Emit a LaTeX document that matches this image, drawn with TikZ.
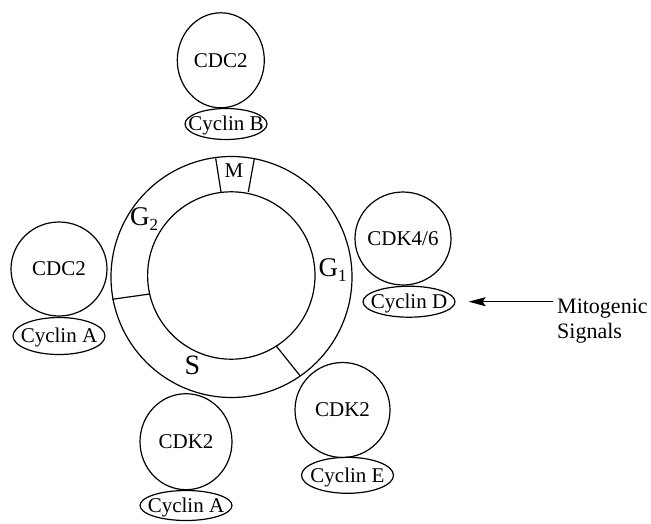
\documentclass[tikz,border=0pt]{standalone}
\usepackage{fontspec}
\setmainfont{Liberation Serif}
\usetikzlibrary{shapes.geometric,arrows.meta}
\newcommand\zb[1]{\makebox[0pt]{#1}}
\begin{document}
\begin{tikzpicture}[x=1pt,y=-1pt,
  ln/.style={line width=1.2pt},
  blob/.style={ellipse, draw, line width=1.2pt, inner sep=0pt,
    font=\fontsize{21}{25}\selectfont, text height=13.9pt, text depth=0pt},
  phase/.style={inner sep=0pt, text height=0.66em, text depth=0pt}
]
\useasboundingbox (0,0) rectangle (651,523);
% cell cycle ring
\draw[ln] (231.5,277) circle [radius=120.5];
\draw[ln] (231.3,275.5) circle [radius=83.7];
\draw[ln] (215.7,158.3) -- (221,191.9);
\draw[ln] (254.3,158.8) -- (248.3,191.9);
\draw[ln] (112.3,299.3) -- (149.5,294);
\draw[ln] (300,375.7) -- (276,345.7);
\node[phase, font=\fontsize{21}{24}\selectfont] (M) at (234,174) {M};
\node[phase, font=\fontsize{27}{30}\selectfont] (G2) at (144,221.7) {G\raisebox{-5pt}{\fontsize{17}{17}\selectfont 2}};
\node[phase, font=\fontsize{27}{30}\selectfont] (G1) at (332.5,273) {G\raisebox{-5pt}{\fontsize{17}{17}\selectfont 1}};
\node[phase, font=\fontsize{28}{32}\selectfont] (S) at (192.3,371) {S};
% complexes
\node[blob, minimum width=87pt, minimum height=95pt] (cdcB) at (220.8,60.3) {\zb{CDC2}};
\node[blob, minimum width=82pt, minimum height=31pt] (cycB) at (226,124) {\zb{Cyclin B}};
\node[blob, minimum width=96pt, minimum height=93pt] (cdk46) at (403,238.5) {\zb{CDK4/6}};
\node[blob, minimum width=92pt, minimum height=31pt] (cycD) at (409,301.7) {\zb{Cyclin D}};
\node[blob, minimum width=96pt, minimum height=94pt] (cdcA) at (59,269) {\zb{CDC2}};
\node[blob, minimum width=92pt, minimum height=37pt] (cycA1) at (59,336) {\zb{Cyclin A}};
\node[blob, minimum width=92pt, minimum height=96pt] (cdk2b) at (186,441.7) {\zb{CDK2}};
\node[blob, minimum width=92pt, minimum height=30pt] (cycA2) at (186,505.5) {\zb{Cyclin A}};
\node[blob, minimum width=95pt, minimum height=95pt] (cdk2e) at (342.5,410) {\zb{CDK2}};
\node[blob, minimum width=92pt, minimum height=36pt] (cycE) at (347.5,475.3) {\zb{Cyclin E}};
% mitogenic signals
\node[anchor=north west, align=left, inner sep=0pt, font=\fontsize{22}{25}\selectfont] (sigtext) at (557,299) {Mitogenic\\Signals};
\coordinate (sig) at (553,301.7);
\draw[ln, -{Stealth[length=17pt, width=9pt, inset=3pt]}, shorten >=13pt] (sig) -- (cycD.east);
\end{tikzpicture}
\end{document}
